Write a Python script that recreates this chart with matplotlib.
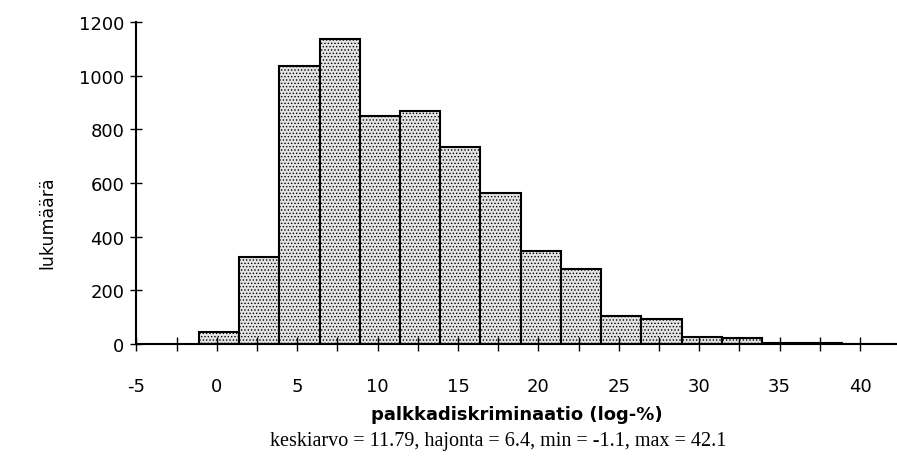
import matplotlib.pyplot as plt
import numpy as np

# histogram of log-% wage discrimination, bins of 2.5 starting at the minimum
bin_start = -1.1
bin_width = 2.5
counts = [43, 326, 1037, 1137, 848, 867, 734, 564, 347, 279, 105, 93, 25, 21, 4, 2, 1, 1]

x_ticks = [-5, -2.5, 0, 2.5, 5, 7.5, 10, 12.5, 15, 17.5, 20, 22.5, 25, 27.5,
           30, 32.5, 35, 37.5, 40]
x_labels = ['-5', '', '0', '', '5', '', '10', '', '15', '', '20', '', '25', '',
            '30', '', '35', '', '40']
y_ticks = [0, 200, 400, 600, 800, 1000, 1200]

caption = "keskiarvo = 11.79, hajonta = 6.4, min = -1.1, max = 42.1"

plt.rcParams['hatch.color'] = '#444444'
plt.rcParams['hatch.linewidth'] = 0.6
plt.rcParams['font.family'] = 'DejaVu Sans'

fig = plt.figure(figsize=(8.97, 4.6), dpi=100, facecolor='w')
ax = fig.add_axes([0.152, 0.25, 0.848, 0.70])

lefts = bin_start + bin_width * np.arange(len(counts))
ax.bar(lefts, counts, width=bin_width, align='edge', facecolor='#e4e4e4',
       edgecolor='black', linewidth=1.5, hatch='.....')

ax.set_xlim(-5, 42.3)
ax.set_ylim(0, 1200)

for side in ['top', 'right']:
    ax.spines[side].set_visible(False)
ax.spines['left'].set_linewidth(1.5)
ax.spines['bottom'].set_linewidth(1.5)

ax.set_xticks(x_ticks)
ax.set_xticklabels(x_labels, fontsize=13)
ax.set_yticks(y_ticks)
ax.set_yticklabels([str(v) for v in y_ticks], fontsize=13)
ax.tick_params(axis='both', direction='inout', length=10, width=1.0)
ax.tick_params(axis='x', pad=19)
ax.tick_params(axis='y', pad=4, length=9)

ax.set_xlabel('palkkadiskriminaatio (log-%)', fontsize=13, fontweight='bold',
              labelpad=7)
ax.set_ylabel('lukumäärä', fontsize=12.5)
# label sits a bit below the middle of the axis
ax.yaxis.set_label_coords(-0.105, 0.38)

fig.text(0.555, 0.04, caption, ha='center', va='center', fontsize=14.5,
         family='Liberation Serif')

plt.savefig('out.png', dpi=100)
